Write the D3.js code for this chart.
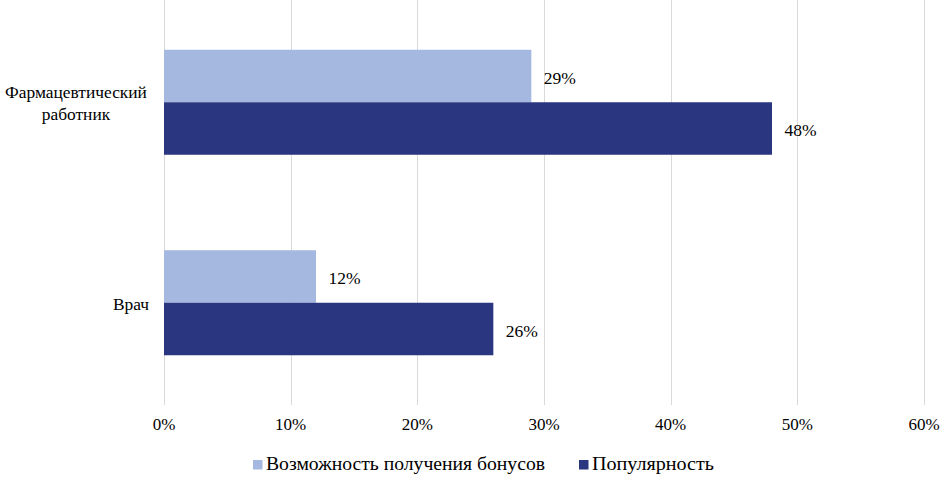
<!DOCTYPE html>
<html><head><meta charset="utf-8">
<script src="https://cdn.jsdelivr.net/npm/d3@7"></script>
<style>body{margin:0;background:#fff}</style>
</head><body>
<svg id="c" width="945" height="478"></svg>
<script>
const categories = ["Фармацевтический работник", "Врач"];
const seriesNames = ["Возможность получения бонусов", "Популярность"];
const bonusValues = [0.29, 0.12];
const popularityValues = [0.48, 0.26];
const tickValues = [0, 0.1, 0.2, 0.3, 0.4, 0.5, 0.6];
const colors = ["#a4b8e0", "#2a3780"];

const svg = d3.select("#c");
const x = d3.scaleLinear().domain([0, 0.6]).range([164, 924]);
const y = d3.scaleBand().domain(categories).range([2, 403]).padding(0);
const sub = d3.scaleBand().domain(seriesNames).range([0, 105]);

svg.append("g").selectAll("line").data(tickValues).join("line")
  .attr("x1", d => Math.round(x(d)) + 0.5).attr("x2", d => Math.round(x(d)) + 0.5)
  .attr("y1", 0).attr("y2", 405).attr("stroke", "#d9d9d9").attr("stroke-width", 1);

svg.append("g").selectAll("text").data(tickValues).join("text")
  .attr("x", d => x(d)).attr("y", 430).attr("text-anchor", "middle")
  .attr("font-size", 17).text(d => d3.format(".0%")(d));

const series = [bonusValues, popularityValues];
series.forEach((vals, si) => {
  const g = svg.append("g");
  g.selectAll("rect").data(categories).join("rect")
    .attr("x", x(0)).attr("y", (c) => y(c) + y.bandwidth()/2 - 52.5 + sub(seriesNames[si]))
    .attr("width", (c, i) => x(vals[i]) - x(0)).attr("height", sub.bandwidth())
    .attr("fill", colors[si]);
  g.selectAll("text").data(categories).join("text")
    .attr("x", (c, i) => x(vals[i]) + 12.5)
    .attr("y", c => y(c) + y.bandwidth()/2 - 52.5 + sub(seriesNames[si]) + sub.bandwidth()/2 + 7.5)
    .attr("font-size", 17.5).text((c, i) => d3.format(".0%")(vals[i]));
});

const catLines = [["Фармацевтический", "работник"], ["Врач"]];
categories.forEach((c, i) => {
  const lines = catLines[i];
  const cy = y(c) + y.bandwidth()/2;
  const t = svg.append("text").attr("text-anchor", "middle").attr("font-size", 17.4);
  const cx = lines.length > 1 ? 76 : 131;
  lines.forEach((l, j) => {
    t.append("tspan").attr("x", cx)
      .attr("y", cy + 7 + (j - (lines.length - 1) / 2) * 22)
      .text(l);
  });
});

const legX = [253, 579];
const legW = [279, 122];
seriesNames.forEach((s, i) => {
  svg.append("rect").attr("x", legX[i]).attr("y", 460).attr("width", 9.5).attr("height", 9.5).attr("fill", colors[i]);
  svg.append("text").attr("x", legX[i] + 13).attr("y", 470).attr("font-size", 18)
    .attr("textLength", legW[i]).attr("lengthAdjust", "spacingAndGlyphs").text(s);
});

svg.selectAll("text").style("font-family", '"Liberation Serif"').style("fill", "#000");
</script>
</body></html>
